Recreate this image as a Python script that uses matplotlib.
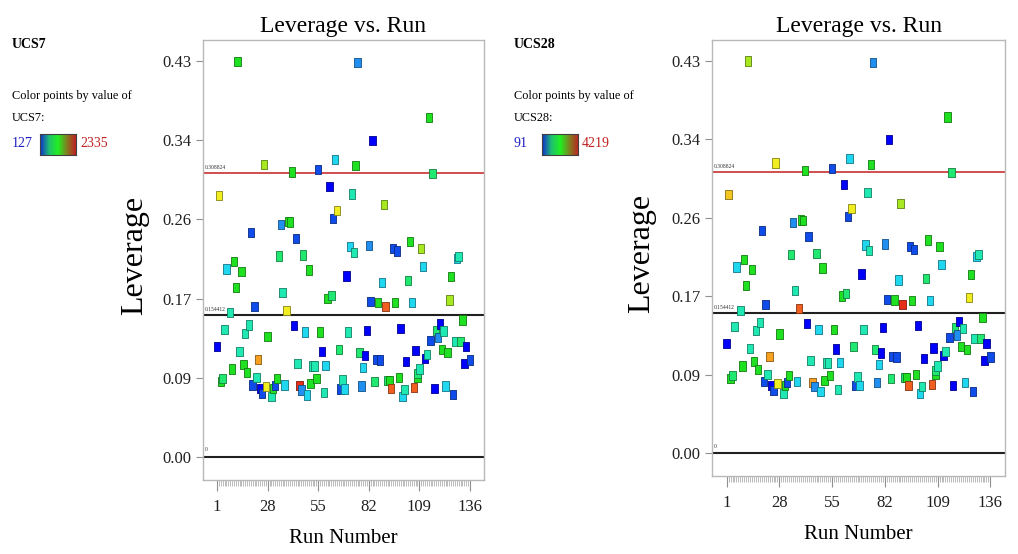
import numpy as np
import matplotlib.pyplot as plt
from matplotlib.colors import LinearSegmentedColormap, Normalize

plt.rcParams['font.family'] = ['Liberation Serif', 'DejaVu Serif']

# ---------------- data ----------------
run = [1, 2, 3, 4, 5, 6, 8, 9, 10, 11, 12, 13, 14, 15, 16, 17, 18, 19, 20, 21,
       22, 23, 24, 25, 26, 27, 28, 30, 31, 32, 33, 34, 35, 36, 37, 38, 39, 40, 41, 42,
       43, 44, 45, 46, 47, 48, 49, 50, 51, 52, 53, 54, 55, 56, 57, 58, 59, 60, 61, 62,
       63, 64, 65, 66, 67, 68, 69, 70, 71, 72, 73, 74, 75, 76, 77, 78, 79, 80, 81, 82,
       83, 84, 85, 86, 87, 88, 89, 90, 91, 92, 93, 94, 95, 96, 97, 98, 99, 100, 101, 102,
       103, 104, 105, 106, 107, 108, 108, 109, 110, 111, 112, 113, 114, 115, 116, 117, 118, 119, 120, 121,
       122, 123, 124, 125, 126, 127, 128, 129, 130, 131, 132, 133, 134, 136]

leverage = [0.120, 0.284, 0.0818, 0.0855, 0.139, 0.2044, 0.157, 0.0957, 0.213, 0.1845,
            0.4305, 0.115, 0.2014, 0.101, 0.1345, 0.0916, 0.1435, 0.244, 0.0783, 0.1634,
            0.0866, 0.106, 0.0747, 0.0692, 0.3185, 0.0764, 0.1308, 0.0656, 0.0747, 0.0775,
            0.0855, 0.2185, 0.253, 0.179, 0.0783, 0.159, 0.256, 0.2555, 0.310, 0.1427,
            0.2377, 0.1018, 0.0775, 0.0728, 0.2196, 0.136, 0.0674, 0.2033, 0.080, 0.099,
            0.099, 0.0855, 0.3127, 0.136, 0.1144, 0.0703, 0.0993, 0.1726, 0.2946, 0.1755,
            0.2595, 0.3236, 0.2685, 0.1171, 0.0739, 0.0837, 0.0739, 0.1968, 0.136, 0.2286,
            0.286, 0.2225, 0.317, 0.429, 0.1135, 0.0772, 0.097, 0.1101, 0.138, 0.2296,
            0.1688, 0.3446, 0.0819, 0.1062, 0.1682, 0.1055, 0.190, 0.2743, 0.1634, 0.083,
            0.083, 0.0747, 0.227, 0.168, 0.224, 0.0866, 0.1399, 0.0656, 0.0735, 0.1036,
            0.1916, 0.234, 0.168, 0.0757, 0.1155, 0.0866, 0.091, 0.0957, 0.227, 0.2073,
            0.107, 0.1116, 0.369, 0.127, 0.308, 0.0747, 0.138, 0.1297, 0.1446, 0.117,
            0.137, 0.0772, 0.114, 0.1707, 0.196, 0.068, 0.126, 0.216, 0.2177, 0.126,
            0.149, 0.102, 0.120, 0.1055]

ucs7 = [127, 1628, 1187, 1010, 834, 657, 834, 1187, 1187, 1187,
        1187, 834, 1187, 1187, 834, 1187, 834, 282, 282, 282,
        834, 1893, 127, 282, 1452, 1628, 1187, 834, 1187, 282,
        1187, 1010, 458, 834, 657, 1628, 1187, 1187, 1187, 127,
        282, 834, 2225, 458, 1010, 657, 657, 1187, 1187, 834,
        834, 1187, 282, 1187, 127, 834, 657, 1187, 127, 1010,
        282, 657, 1628, 1010, 282, 834, 657, 127, 834, 657,
        834, 834, 1187, 458, 1010, 458, 657, 127, 127, 458,
        282, 127, 1010, 282, 1187, 282, 657, 1452, 2070, 1010,
        1187, 2070, 282, 1187, 282, 1187, 127, 657, 834, 127,
        1010, 1187, 657, 2070, 127, 1187, 1010, 834, 1452, 657,
        127, 834, 1187, 282, 1010, 127, 1010, 458, 127, 1187,
        834, 657, 1187, 1452, 1187, 282, 834, 657, 834, 1010,
        1187, 127, 127, 282]

ucs28 = [91, 3150, 2072, 1742, 1412, 1082, 1412, 2072, 2072, 2072,
         2568, 1412, 2072, 2072, 1412, 2072, 1412, 380, 380, 380,
         1412, 3393, 91, 380, 2898, 2898, 2072, 1412, 2072, 380,
         2072, 1742, 710, 1412, 1082, 3724, 2072, 2072, 2072, 91,
         380, 1412, 3393, 710, 1742, 1082, 1082, 2072, 2072, 1412,
         1412, 2072, 380, 2072, 91, 1412, 1082, 2072, 91, 1742,
         380, 1082, 2898, 1742, 380, 1412, 1082, 91, 1412, 1082,
         1412, 1412, 2072, 710, 1742, 710, 1082, 91, 91, 710,
         380, 91, 1742, 380, 2072, 380, 1082, 2568, 4013, 1742,
         2072, 3724, 380, 2072, 380, 2072, 91, 1082, 1412, 91,
         1742, 2072, 1082, 3724, 91, 2072, 1742, 1412, 2072, 1082,
         91, 1412, 2072, 380, 1742, 91, 1742, 710, 91, 2072,
         1412, 1082, 2072, 2898, 2072, 380, 1412, 1082, 1412, 1742,
         2072, 91, 91, 380]

panels = [('UCS7', ucs7, 127, 2335), ('UCS28', ucs28, 91, 4219)]

lev_ref = 0.154412       # p/n
lev_cut = 0.308824       # 2p/n
yticks = [0.0, 0.0861, 0.1722, 0.2583, 0.3444, 0.4305]
xticks = [1, 28, 55, 82, 109, 136]

# point colour scale
cmap = LinearSegmentedColormap.from_list('pts', [
    (0.00, '#0000ff'), (0.07, '#1050e8'), (0.15, '#2090f0'), (0.24, '#20d8f0'),
    (0.32, '#20e8b0'), (0.40, '#20e870'), (0.48, '#20e020'), (0.60, '#a8e820'),
    (0.68, '#f0f020'), (0.80, '#f8a020'), (0.88, '#f06020'), (1.00, '#e01010')])
# legend bar scale
cmap_bar = LinearSegmentedColormap.from_list('bar', ['#1030d0', '#20c070', '#20f020',
                                                     '#808020', '#c02020'])

W, H = 1018, 554
fig = plt.figure(figsize=(W / 100, H / 100), dpi=100)


def frac(x0, y0, x1, y1):
    return [x0 / W, 1 - y1 / H, (x1 - x0) / W, (y1 - y0) / H]


axes_px = [(203, 40, 484, 480), (712, 40, 1005, 476)]
legend_x = [12, 514]
rect = [(-0.7, -1), (0.7, -1), (0.7, 1), (-0.7, 1), (-0.7, -1)]

for (name, vals, vmin, vmax), (x0, y0, x1, y1), lx in zip(panels, axes_px, legend_x):
    ax = fig.add_axes(frac(x0, y0, x1, y1))
    norm = Normalize(vmin, vmax)
    fc = cmap(norm(np.array(vals)))
    ec = fc.copy()
    ec[:, :3] = ec[:, :3] * 0.55
    ax.scatter(run, leverage, marker=rect, s=44, c=fc, edgecolors=ec,
               linewidths=0.6, zorder=3)

    ax.axhline(lev_cut, color='#c83030', lw=1.2, zorder=2)
    ax.axhline(lev_ref, color='#202020', lw=1.5, zorder=2)
    ax.axhline(0, color='#202020', lw=1.5, zorder=2)
    ax.text(-5.5, lev_cut + 0.004, '0.308824', fontsize=4, color='#303030')
    ax.text(-5.5, lev_ref + 0.004, '0.154412', fontsize=4, color='#303030')
    ax.text(-5.5, 0.006, '0', fontsize=4, color='#303030')

    ax.set_xlim(-6.5, 143.5)
    ax.set_ylim(-0.025, 0.4535)
    ax.set_yticks(yticks)
    ax.set_yticklabels(['%.2f' % v for v in yticks])
    ax.set_xticks(xticks)
    ax.set_xticks(range(1, 137), minor=True)
    ax.tick_params(axis='both', labelsize=12, colors='#202020', direction='out')
    ax.tick_params(axis='y', length=5, color='#909090')
    ax.tick_params(axis='x', which='major', length=8, color='#909090', pad=6)
    ax.tick_params(axis='x', which='minor', length=4, color='#b0b0b0')
    for sp in ax.spines.values():
        sp.set_color('#b8b8b8')
        sp.set_linewidth(1.0)

    ax.set_title('Leverage vs. Run', fontsize=17, pad=6)
    ax.set_xlabel('Run Number', fontsize=15, labelpad=10)
    ax.set_ylabel('Leverage', fontsize=23)
    ax.yaxis.set_label_coords(-0.19, 0.51)

    # colour legend at the left of each panel
    fig.text(lx / W, 1 - 45 / H, name, fontsize=10, fontweight='bold', va='center')
    fig.text(lx / W, 1 - 96 / H, 'Color points by value of', fontsize=8.8, va='center')
    fig.text(lx / W, 1 - 118 / H, name + ':', fontsize=8.8, va='center')
    fig.text(lx / W, 1 - 144 / H, str(vmin), fontsize=10, color='#2020c0', va='center')
    bx = lx + 28
    bar = fig.add_axes(frac(bx, 134, bx + 36, 155))
    bar.imshow(np.linspace(0, 1, 64)[None, :], aspect='auto', cmap=cmap_bar)
    bar.set_xticks([])
    bar.set_yticks([])
    for sp in bar.spines.values():
        sp.set_color('#404040')
        sp.set_linewidth(0.8)
    fig.text((bx + 40) / W, 1 - 144 / H, str(vmax), fontsize=10, color='#c02020', va='center')

fig.savefig('out.png', dpi=100)
